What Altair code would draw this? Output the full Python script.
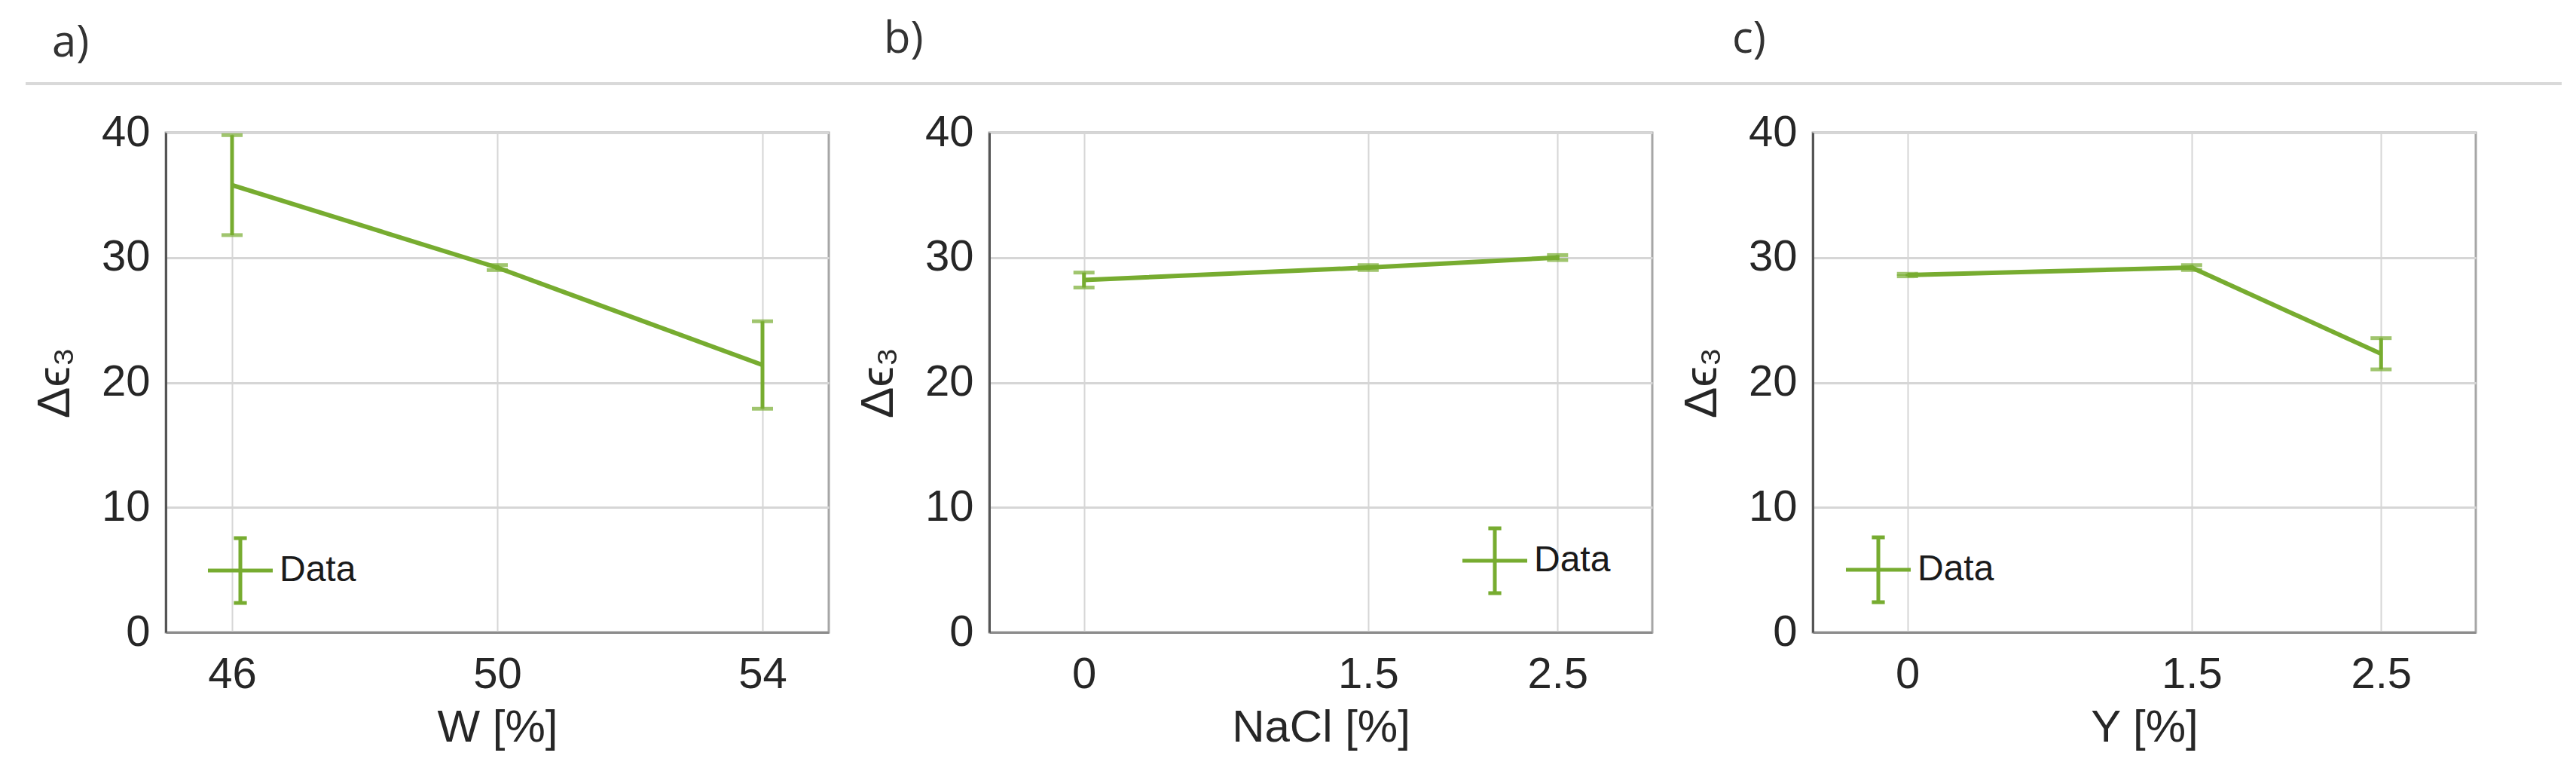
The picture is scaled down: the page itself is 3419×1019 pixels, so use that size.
import altair as alt
import pandas as pd

GREEN = "#77AC30"

# ---- data ----
w_pct = [46, 50, 54]
w_mean = [35.8, 29.2, 21.4]
w_err = [4.0, 0.2, 3.5]

nacl_pct = [0, 1.5, 2.5]
nacl_mean = [28.2, 29.2, 30.0]
nacl_err = [0.6, 0.2, 0.2]

y_pct = [0, 1.5, 2.5]
y_mean = [28.6, 29.2, 22.3]
y_err = [0.1, 0.2, 1.25]

panel_labels = ["a)", "b)", "c)"]
x_titles = ["W [%]", "NaCl [%]", "Y [%]"]
y_title = "Δϵ₃"
x_ticks = [[46, 50, 54], [0, 1.5, 2.5], [0, 1.5, 2.5]]
x_domains = [[45, 55], [-0.5, 3], [-0.5, 3]]
y_ticks = [0, 10, 20, 30, 40]
y_domain = [0, 40]
series_name = "Data"

# ---- styling ----
PANEL_W = 880
PANEL_H = 663
LEGEND_SYMBOL = "M-1,0H1M0,-1V1M-0.2,-1H0.2M-0.2,1H0.2"


def panel(xs, means, errs, idx, title_dx, title_offset, legend_xy, separator=False):
    df = pd.DataFrame({
        "x": xs,
        "m": means,
        "lo": [m - e for m, e in zip(means, errs)],
        "hi": [m + e for m, e in zip(means, errs)],
        "s": [series_name] * len(xs),
    })
    xenc = alt.X(
        "x:Q",
        title=x_titles[idx],
        scale=alt.Scale(domain=x_domains[idx], nice=False, zero=False),
        axis=alt.Axis(values=x_ticks[idx], format="~g", labelFlush=False),
    )
    yaxis = alt.Axis(values=y_ticks, labelFlush=False)
    yscale = alt.Scale(domain=y_domain, nice=False, zero=False)

    base = alt.Chart(df)
    line = base.mark_line(strokeWidth=6).encode(
        x=xenc,
        y=alt.Y("m:Q", title=y_title, scale=yscale, axis=yaxis),
        color=alt.Color(
            "s:N",
            scale=alt.Scale(range=[GREEN]),
            legend=alt.Legend(
                title=None,
                orient="none",
                legendX=legend_xy[0],
                legendY=legend_xy[1],
                padding=0,
                symbolType=LEGEND_SYMBOL,
                symbolSize=7400,
                symbolStrokeWidth=5,
                labelFontSize=48,
                labelFont="Liberation Sans",
                labelColor="#1a1a1a",
                labelOffset=6,
            ),
        ),
    )
    bars = base.mark_rule(strokeWidth=5, color=GREEN).encode(
        x=alt.X("x:Q", title=x_titles[idx]),
        y=alt.Y("lo:Q", title=y_title),
        y2="hi:Q",
    )
    cap_lo = base.mark_tick(orient="horizontal", size=28, thickness=5, color=GREEN).encode(
        x=alt.X("x:Q", title=x_titles[idx]), y=alt.Y("lo:Q", title=y_title)
    )
    cap_hi = base.mark_tick(orient="horizontal", size=28, thickness=5, color=GREEN).encode(
        x=alt.X("x:Q", title=x_titles[idx]), y=alt.Y("hi:Q", title=y_title)
    )
    layers = [bars, cap_lo, cap_hi, line]
    if separator:
        sep = alt.Chart(pd.DataFrame({"k": [0]})).mark_rule(
            color="#d9d9d9", strokeWidth=4
        ).encode(x=alt.value(-186), x2=alt.value(3180), y=alt.value(-65))
        layers.insert(0, sep)
    return alt.layer(*layers).properties(
        width=PANEL_W,
        height=PANEL_H,
        title=alt.TitleParams(
            panel_labels[idx],
            anchor="start",
            frame="group",
            dx=title_dx,
            offset=title_offset,
            baseline="alphabetic",
            fontSize=58,
            font="Open Sans",
            fontWeight="normal",
            color="#333333",
        ),
    )


pa = panel(w_pct, w_mean, w_err, 0, -151, -24, (53, 535), separator=True)
pb = panel(nacl_pct, nacl_mean, nacl_err, 1, -140, 19, (625, 522))
pc = panel(y_pct, y_mean, y_err, 2, -107, 19, (41, 534))

chart = (
    alt.hconcat(pa, pb, pc, spacing=213, bounds="flush")
    .resolve_scale(color="independent")
    .resolve_legend(color="independent")
    .configure(
        font="Liberation Sans",
        padding={"left": 22, "top": 14, "right": 5, "bottom": 5},
    )
    .configure_view(stroke="#a6a6a6", strokeWidth=3)
    .configure_axis(
        labelFont="Liberation Sans",
        labelFontSize=58,
        labelColor="#262626",
        titleFont="Liberation Sans",
        titleFontSize=60,
        titleColor="#262626",
        titleFontWeight="normal",
        grid=True,
        gridColor="#d6d6d6",
        gridWidth=3,
        ticks=False,
        domainColor="#555555",
        domainWidth=3,
    )
    .configure_axisX(labelPadding=27, titlePadding=12, domainColor="#8c8c8c", gridWidth=2)
    .configure_axisY(labelPadding=21, titlePadding=30, titleFontSize=62)
)

chart.save("out.html", embed_options={"renderer": "svg", "actions": False})
